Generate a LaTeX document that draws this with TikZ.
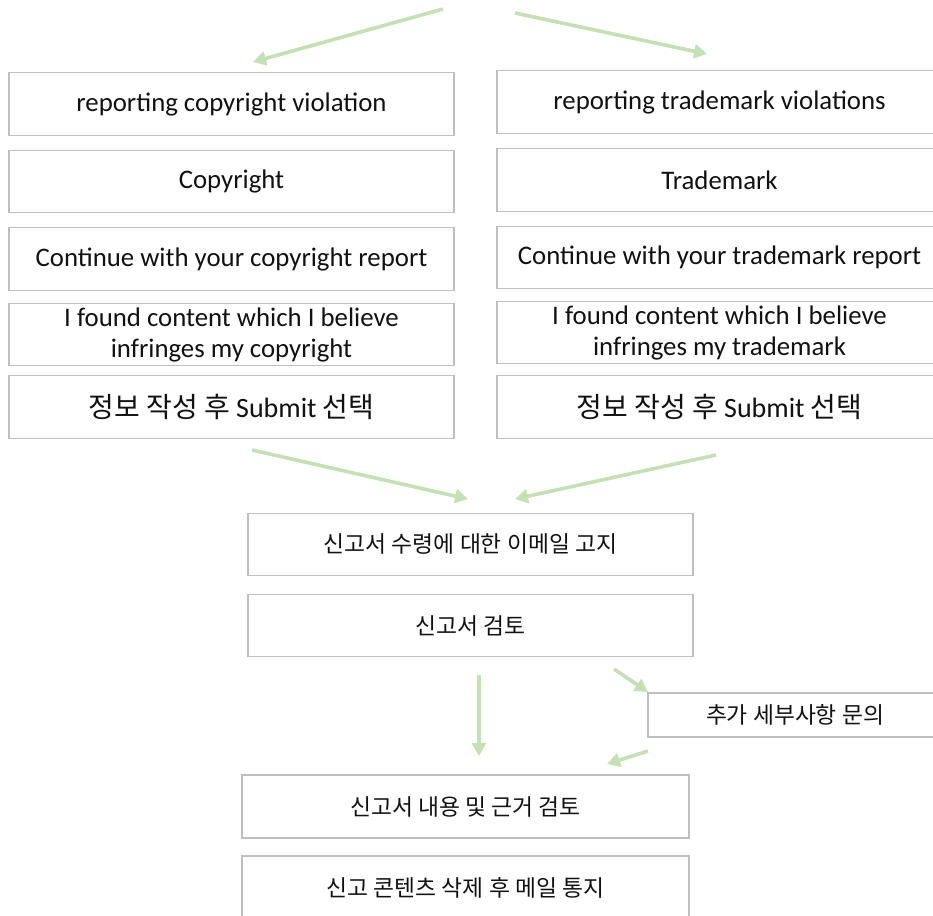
\documentclass[tikz,border=0pt]{standalone}
\usepackage{fontspec}
\setmainfont{Carlito}
\newfontfamily\kr{Noto Sans CJK KR}
\usetikzlibrary{arrows.meta}
\definecolor{arrowgreen}{HTML}{C5E0B4}
\definecolor{boxgray}{HTML}{BFBFBF}
\definecolor{txt}{HTML}{111111}
\begin{document}
\begin{tikzpicture}[x=1pt,y=-1pt,
  box/.style={draw=boxgray,line width=1.3pt,rectangle,inner sep=0pt,align=center,text=txt,
    font=\fontsize{26.8}{31}\selectfont},
  colbox/.style={box,minimum width=445pt,minimum height=62.5pt},
  bigtxt/.style={font=\fontsize{28}{31}\selectfont},
  krtxt/.style={font=\kr\fontsize{22.8}{28}\selectfont},
  flow/.style={draw=arrowgreen,line width=3.6pt,-{Triangle[length=13pt,width=14pt]}}]
\useasboundingbox (0,0) rectangle (933,915);
% left column
\node[colbox] (l1) at (231.5,104) {reporting copyright violation};
\node[colbox] (l2) at (231.5,181.5) {Copyright};
\node[colbox] (l3) at (231.5,259) {Continue with your copyright report};
\node[colbox] (l4) at (231.5,334.5) {I found content which I believe\\infringes my copyright};
\node[colbox,bigtxt] (l5) at (231.5,407) {{\kr 정보 작성 후} Submit {\kr 선택}};
% right column
\node[colbox] (r1) at (719.5,102) {reporting trademark violations};
\node[colbox] (r2) at (719.5,180) {Trademark};
\node[colbox] (r3) at (719.5,257.5) {Continue with your trademark report};
\node[colbox] (r4) at (719.5,332.5) {I found content which I believe\\infringes my trademark};
\node[colbox,bigtxt] (r5) at (719.5,407) {{\kr 정보 작성 후} Submit {\kr 선택}};
% center
\node[colbox,krtxt] (c1) at (470.5,544.5) {신고서 수령에 대한 이메일 고지};
\node[colbox,krtxt] (c2) at (470.5,625.5) {신고서 검토};
\node[box,krtxt,minimum width=294pt,minimum height=44pt] (s) at (795,715) {추가 세부사항 문의};
\node[box,krtxt,minimum width=447pt,minimum height=63pt] (b1) at (465.5,806.5) {신고서 내용 및 근거 검토};
\node[box,krtxt,minimum width=447pt,minimum height=63pt] (b2) at (465.5,887.5) {신고 콘텐츠 삭제 후 메일 통지};
% arrow end points
\coordinate (tl0) at (443,9);  \coordinate (tl1) at (253,62);
\coordinate (tr0) at (515,13); \coordinate (tr1) at (707,54);
\coordinate (ml0) at (252,450); \coordinate (ml1) at (468,499);
\coordinate (mr0) at (716,455); \coordinate (mr1) at (515,499);
\coordinate (d0) at (479,675); \coordinate (d1) at (479,756);
\coordinate (sa0) at (614,669); \coordinate (sa1) at (648,692);
\coordinate (sb0) at (648,751); \coordinate (sb1) at (607,764);
\draw[flow] (tl0) -- (tl1);
\draw[flow] (tr0) -- (tr1);
\draw[flow] (ml0) -- (ml1);
\draw[flow] (mr0) -- (mr1);
\draw[flow] (d0) -- (d1);
\draw[flow] (sa0) -- (sa1);
\draw[flow] (sb0) -- (sb1);
\end{tikzpicture}
\end{document}
